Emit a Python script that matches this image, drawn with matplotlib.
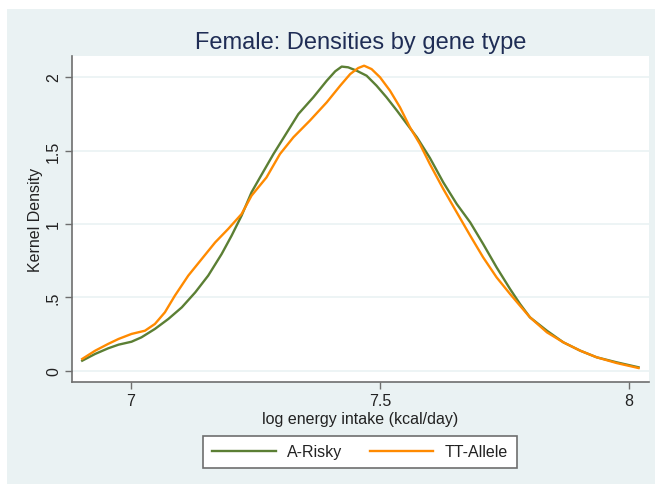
import matplotlib
matplotlib.use("Agg")
import matplotlib.pyplot as plt
from matplotlib.patches import Rectangle

# ---- data ----
risky_x = [6.902, 6.928, 6.954, 6.975, 7.001, 7.021, 7.048, 7.075, 7.102, 7.129,
           7.155, 7.182, 7.202, 7.222, 7.242, 7.259, 7.286, 7.313, 7.336, 7.366,
           7.393, 7.410, 7.423, 7.436, 7.453, 7.473, 7.493, 7.513, 7.534, 7.554,
           7.574, 7.600, 7.627, 7.654, 7.681, 7.707, 7.734, 7.761, 7.781, 7.801,
           7.835, 7.868, 7.902, 7.935, 7.975, 8.019]
risky_y = [0.070, 0.116, 0.154, 0.179, 0.199, 0.229, 0.286, 0.354, 0.433, 0.535,
           0.649, 0.796, 0.921, 1.057, 1.216, 1.317, 1.476, 1.623, 1.748, 1.862,
           1.975, 2.039, 2.071, 2.066, 2.043, 2.009, 1.941, 1.862, 1.771, 1.680,
           1.590, 1.450, 1.283, 1.136, 1.011, 0.864, 0.705, 0.558, 0.456, 0.365,
           0.274, 0.195, 0.138, 0.093, 0.059, 0.025]

tt_x = [6.902, 6.928, 6.954, 6.975, 7.001, 7.028, 7.048, 7.068, 7.088, 7.115,
        7.142, 7.169, 7.195, 7.222, 7.242, 7.272, 7.299, 7.326, 7.359, 7.393,
        7.420, 7.440, 7.456, 7.468, 7.483, 7.500, 7.520, 7.540, 7.560, 7.580,
        7.600, 7.627, 7.654, 7.681, 7.707, 7.734, 7.761, 7.781, 7.801, 7.835,
        7.868, 7.902, 7.935, 7.975, 8.019]
tt_y = [0.082, 0.138, 0.184, 0.218, 0.252, 0.274, 0.320, 0.399, 0.512, 0.649,
        0.762, 0.875, 0.966, 1.068, 1.193, 1.317, 1.476, 1.590, 1.703, 1.828,
        1.941, 2.020, 2.061, 2.077, 2.054, 1.998, 1.907, 1.794, 1.658, 1.544,
        1.408, 1.238, 1.079, 0.921, 0.773, 0.637, 0.524, 0.444, 0.365, 0.263,
        0.195, 0.138, 0.093, 0.054, 0.020]

series_labels = ["A-Risky", "TT-Allele"]
x_ticks = [7, 7.5, 8]
x_ticklabels = ["7", "7.5", "8"]
y_ticks = [0, 0.5, 1, 1.5, 2]
y_ticklabels = ["0", ".5", "1", "1.5", "2"]

title = "Female: Densities by gene type"
xlabel = "log energy intake (kcal/day)"
ylabel = "Kernel Density"

# ---- styling ----
plt.rcParams['font.family'] = ['Liberation Sans', 'DejaVu Sans']
BG = "#EAF2F3"
GREEN = "#5B7F34"
ORANGE = "#FF8A00"
AXCOL = "#6E6E6E"
TXT = "#222222"
FS = 11.5

W, H = 655, 485
fig = plt.figure(figsize=(W / 100, H / 100), dpi=100)
fig.patch.set_facecolor("white")
fig.patches.append(Rectangle((7 / W, 0), (W - 7) / W, (H - 10) / H,
                             transform=fig.transFigure, facecolor=BG,
                             edgecolor="none", zorder=-10))

left, right, top, bottom = 72, 649, 57, 383
ax = fig.add_axes([left / W, 1 - bottom / H, (right - left) / W, (bottom - top) / H])
ax.set_zorder(1)
ax.set_facecolor("white")

ax.plot(risky_x, risky_y, color=GREEN, lw=1.7, label=series_labels[0], zorder=3)
ax.plot(tt_x, tt_y, color=ORANGE, lw=1.7, label=series_labels[1], zorder=3)

ax.set_xlim(6.8815, 8.040)
ax.set_ylim(-0.075, 2.143)

ax.set_xticks(x_ticks)
ax.set_xticklabels(x_ticklabels)
ax.set_yticks(y_ticks)
ax.set_yticklabels(y_ticklabels, rotation=90, va="center")

for s in ["top", "right"]:
    ax.spines[s].set_visible(False)
for s in ["left", "bottom"]:
    ax.spines[s].set_color(AXCOL)
    ax.spines[s].set_linewidth(1.2)

ax.tick_params(axis="both", colors=AXCOL, length=5, width=1.0, labelsize=FS,
               labelcolor=TXT)
ax.tick_params(axis="y", pad=3)
ax.tick_params(axis="x", pad=3)
ax.grid(axis="y", color=BG, lw=1.2, zorder=1)
ax.set_axisbelow(True)

ax.set_title(title, fontsize=17, color="#1F2D55", pad=6)
ax.set_xlabel(xlabel, fontsize=FS, color=TXT, labelpad=2)
ax.set_ylabel(ylabel, fontsize=FS, color=TXT, labelpad=2)

leg = fig.legend(loc="center", bbox_to_anchor=(360 / W, 1 - 453 / H), ncol=2,
                 fontsize=FS, frameon=True, fancybox=False, edgecolor=AXCOL,
                 facecolor="white", framealpha=1.0,
                 handlelength=4.0, handletextpad=0.7, columnspacing=1.7,
                 borderpad=0.55)
leg.get_frame().set_linewidth(1.2)
for t in leg.get_texts():
    t.set_color(TXT)

fig.savefig("out.png", dpi=100, facecolor=fig.get_facecolor())
